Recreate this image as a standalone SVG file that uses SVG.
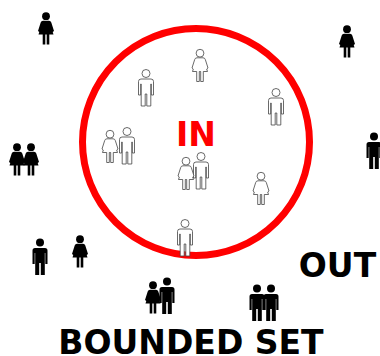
<svg xmlns="http://www.w3.org/2000/svg" width="380" height="356" viewBox="0 0 380 356">
<style>
.o{fill:#fff;stroke:#444;stroke-width:.8}
.b{fill:#000}
.t{font-family:"DejaVu Sans",sans-serif;font-weight:700}
</style>
<defs>
<g id="man"><circle cx="0" cy="4.500" r="4"/><path d="M-5 10H5Q7.500 10 7.500 12.500V26H5.300V15H4.800V37H.8V25H-.8V37H-4.800V15H-5.300V26H-7.500V12.500Q-7.500 10-5 10Z"/></g>
<g id="woman"><circle cx="0" cy="4.200" r="3.900"/><path d="M-3 8.800H3Q4.800 8.800 5.300 10.500L8 19L6.700 20L7.500 22.500H3.300V32.500H.7V22.500H-.7V32.500H-3.300V22.500H-7.500L-6.700 20L-8 19L-5.300 10.500Q-4.800 8.800-3 8.800Z"/></g>
</defs>
<rect width="380" height="356" fill="#fff"/>
<circle cx="196" cy="142" r="113.500" fill="none" stroke="#f00" stroke-width="7"/>
<g id="inside">
<use href="#woman" class="o" x="200" y="49"/>
<use href="#man" class="o" x="146" y="69"/>
<use href="#man" class="o" x="276" y="88"/>
<use href="#man" class="o" x="127" y="127"/>
<use href="#woman" class="o" x="110" y="130"/>
<use href="#man" class="o" x="201" y="152"/>
<use href="#woman" class="o" x="186" y="157"/>
<use href="#woman" class="o" x="261" y="172"/>
<use href="#man" class="o" x="185" y="219"/>
</g>
<g id="outside">
<use href="#woman" class="b" x="46" y="12"/>
<use href="#woman" class="b" x="347" y="25"/>
<use href="#man" class="b" x="374" y="132"/>
<use href="#woman" class="b" x="17" y="143"/>
<use href="#woman" class="b" x="31" y="143"/>
<use href="#man" class="b" x="40" y="238"/>
<use href="#woman" class="b" x="80" y="235"/>
<use href="#man" class="b" x="167" y="277"/>
<use href="#woman" class="b" x="153" y="281"/>
<use href="#man" class="b" x="257" y="284"/>
<use href="#man" class="b" x="271" y="284"/>
</g>
<text class="t" x="196" y="146" font-size="33" fill="#f00" text-anchor="middle">IN</text>
<text class="t" x="337.500" y="277" font-size="33" text-anchor="middle">OUT</text>
<text class="t" x="191" y="354" font-size="33" text-anchor="middle">BOUNDED SET</text>
</svg>
